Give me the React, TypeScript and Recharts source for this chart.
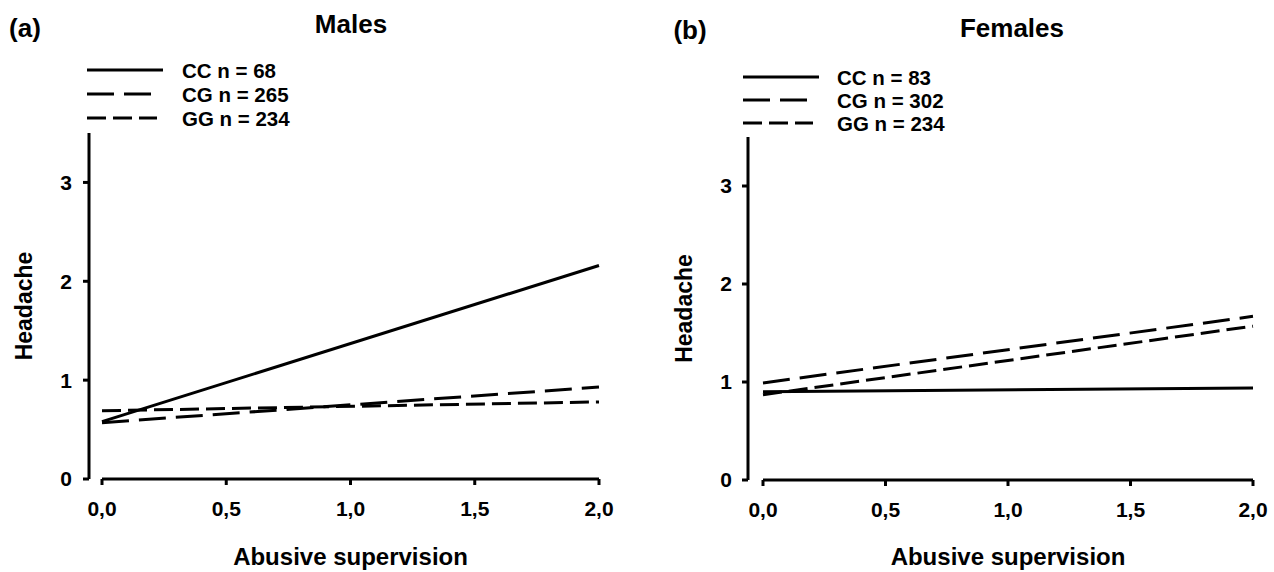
import { Label, Line, LineChart, ReferenceLine, XAxis, YAxis } from "recharts";

const xValues = [0, 2];
const maleCC = [0.58, 2.16];
const maleCG = [0.57, 0.93];
const maleGG = [0.69, 0.78];
const femaleCC = [0.9, 0.94];
const femaleCG = [0.99, 1.67];
const femaleGG = [0.87, 1.57];
const genotypes = ["CC", "CG", "GG"];
const maleN = [68, 265, 234];
const femaleN = [83, 302, 234];
const xTicks = [0, 0.5, 1, 1.5, 2];
const yTicks = [0, 1, 2, 3];

const FONT = "'Liberation Sans', Arial, sans-serif";
const W = 637;
const H = 572;
const dashes: Record<string, string | undefined> = {
  CC: undefined,
  CG: "27 10",
  GG: "19 7",
};
const legendLen: Record<string, number> = { CC: 76, CG: 66, GG: 70 };

type Layout = {
  axisX: number;
  padLeft: number;
  xEnd: number;
  top: number;
  bottom: number;
  yTitleX: number;
  xTitleY: number;
  legendX: number;
  legendRows: number[];
  legendTextX: number;
  tag: [number, number];
  titlePos: [number, number];
  yTickMargin: number;
};

const leftLayout: Layout = {
  axisX: 89,
  padLeft: 13,
  xEnd: 599,
  top: 133,
  bottom: 479,
  yTitleX: 24,
  xTitleY: 556,
  legendX: 87,
  legendRows: [70, 94, 118],
  legendTextX: 182,
  tag: [25, 28],
  titlePos: [351, 24],
  yTickMargin: 11,
};

const rightLayout: Layout = {
  axisX: 111,
  padLeft: 15,
  xEnd: 616,
  top: 137,
  bottom: 480,
  yTitleX: 47,
  xTitleY: 556,
  legendX: 106,
  legendRows: [77, 100, 123],
  legendTextX: 200,
  tag: [53, 30],
  titlePos: [375, 28],
  yTickMargin: 10,
};

function Panel({
  tag,
  title,
  cc,
  cg,
  gg,
  ns,
  L,
}: {
  tag: string;
  title: string;
  cc: number[];
  cg: number[];
  gg: number[];
  ns: number[];
  L: Layout;
}) {
  const rows = xValues.map((x, i) => ({ x, CC: cc[i], CG: cg[i], GG: gg[i] }));
  const tickStyle = { fill: "#000", fontSize: 21, fontWeight: 700, fontFamily: FONT };
  const midY = (L.top + L.bottom) / 2;
  const midX = (L.axisX + L.padLeft + L.xEnd) / 2;

  return (
    <div style={{ position: "relative", width: W, height: H }}>
      <LineChart
        width={W}
        height={H}
        data={rows}
        margin={{ top: L.top, right: W - L.xEnd, bottom: 0, left: 0 }}
      >
        <XAxis
          dataKey="x"
          type="number"
          domain={[0, 2]}
          ticks={xTicks}
          interval={0}
          height={H - L.bottom}
          padding={{ left: L.padLeft, right: 0 }}
          tickFormatter={(v: number) => v.toFixed(1).replace(".", ",")}
          axisLine={false}
          tickLine={{ stroke: "#000", strokeWidth: 3 }}
          tickSize={6}
          tickMargin={16}
          tick={tickStyle}
        >
          <Label
            content={() => (
              <text
                x={midX}
                y={L.xTitleY}
                textAnchor="middle"
                dominantBaseline="central"
                fontSize={24}
                fontWeight={700}
                fontFamily={FONT}
              >
                Abusive supervision
              </text>
            )}
          />
        </XAxis>
        <YAxis
          type="number"
          domain={[0, 3.5]}
          ticks={yTicks}
          width={L.axisX}
          axisLine={{ stroke: "#000", strokeWidth: 3 }}
          tickLine={{ stroke: "#000", strokeWidth: 3 }}
          tickSize={6}
          tickMargin={L.yTickMargin}
          tick={tickStyle}
        >
          <Label
            content={() => (
              <text
                x={L.yTitleX}
                y={midY}
                transform={`rotate(-90 ${L.yTitleX} ${midY})`}
                textAnchor="middle"
                dominantBaseline="central"
                fontSize={23}
                fontWeight={700}
                fontFamily={FONT}
              >
                Headache
              </text>
            )}
          />
        </YAxis>
        <ReferenceLine
          segment={[
            { x: 0, y: 0 },
            { x: 2, y: 0 },
          ]}
          stroke="#000"
          strokeWidth={3}
          ifOverflow="visible"
        />
        {genotypes.map((g) => (
          <Line
            key={g}
            type="linear"
            dataKey={g}
            stroke="#000"
            strokeWidth={3}
            strokeDasharray={dashes[g]}
            dot={false}
            activeDot={false}
            isAnimationActive={false}
          />
        ))}
      </LineChart>
      <svg
        width={W}
        height={H}
        style={{ position: "absolute", left: 0, top: 0, pointerEvents: "none" }}
      >
        <text
          x={L.tag[0]}
          y={L.tag[1]}
          textAnchor="middle"
          dominantBaseline="central"
          fontSize={26}
          fontWeight={700}
          fontFamily={FONT}
        >
          {tag}
        </text>
        <text
          x={L.titlePos[0]}
          y={L.titlePos[1]}
          textAnchor="middle"
          dominantBaseline="central"
          fontSize={26}
          fontWeight={700}
          fontFamily={FONT}
        >
          {title}
        </text>
        {genotypes.map((g, i) => (
          <g key={g}>
            <line
              x1={L.legendX}
              x2={L.legendX + legendLen[g]}
              y1={L.legendRows[i]}
              y2={L.legendRows[i]}
              stroke="#000"
              strokeWidth={3}
              strokeDasharray={dashes[g]}
            />
            <text
              x={L.legendTextX}
              y={L.legendRows[i]}
              dominantBaseline="central"
              fontSize={20.5}
              fontWeight={700}
              fontFamily={FONT}
            >
              {`${g} n = ${ns[i]}`}
            </text>
          </g>
        ))}
      </svg>
    </div>
  );
}

export default function App() {
  return (
    <div style={{ display: "flex", width: 1274, height: H, background: "#fff" }}>
      <style>{`body{margin:0}`}</style>
      <Panel tag="(a)" title="Males" cc={maleCC} cg={maleCG} gg={maleGG} ns={maleN} L={leftLayout} />
      <Panel tag="(b)" title="Females" cc={femaleCC} cg={femaleCG} gg={femaleGG} ns={femaleN} L={rightLayout} />
    </div>
  );
}
